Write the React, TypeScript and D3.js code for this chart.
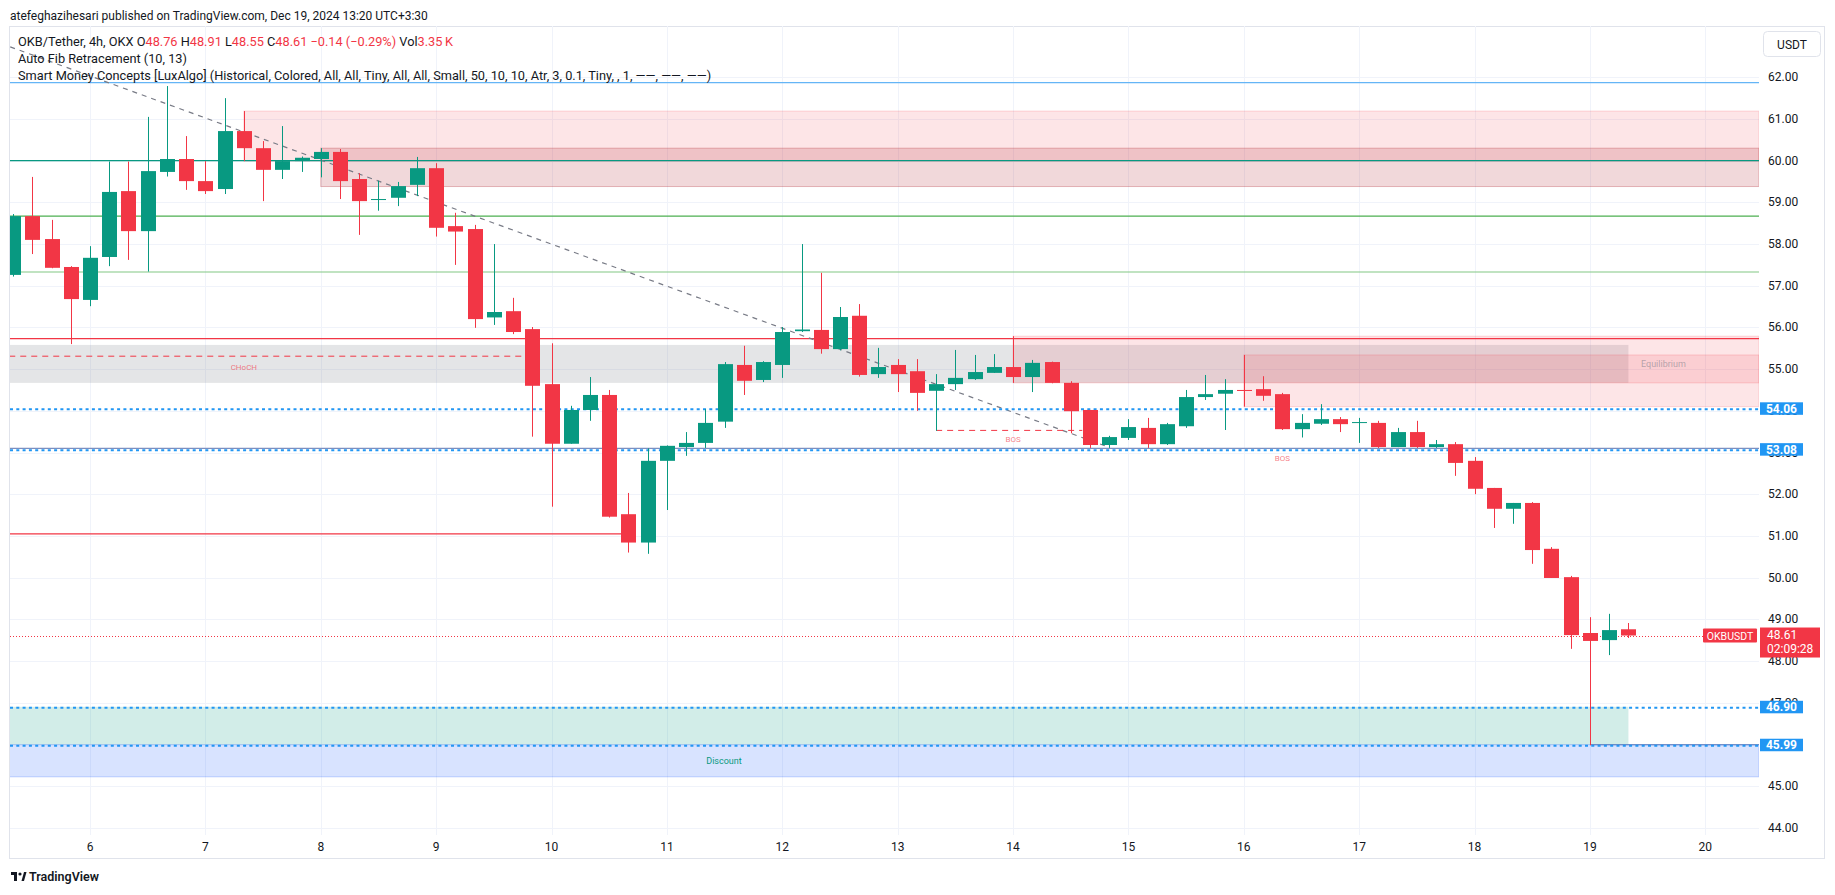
import React, { useEffect, useRef } from "react";
import * as d3 from "d3";

// OKB/USDT 4h bars, Dec 5 04:00 .. Dec 19 08:00
const opens = [
  57.26, 58.67, 58.12, 57.45, 56.66, 57.69, 59.27, 58.31, 59.73, 60.04,
  59.51, 59.32, 60.71, 60.30, 59.78, 59.99, 60.04, 60.21, 59.56, 59.06,
  59.11, 59.42, 59.82, 58.43, 58.36, 56.24, 56.39, 55.96, 54.64, 53.21,
  54.02, 54.38, 51.52, 50.84, 52.80, 53.13, 53.23, 53.74, 55.10, 54.74,
  55.10, 55.91, 55.94, 55.48, 56.28, 54.88, 55.10, 54.95, 54.48, 54.64,
  54.76, 54.91, 55.05, 54.81, 55.17, 54.67, 54.02, 53.18, 53.35, 53.59,
  53.20, 53.63, 54.33, 54.41, 54.50, 54.52, 54.40, 53.56, 53.69, 53.80,
  53.71, 53.71, 53.13, 53.49, 53.13, 53.20, 52.80, 52.15, 51.65, 51.79,
  50.69, 50.01, 48.67, 48.50, 48.76,
];
const highs = [
  58.72, 59.61, 58.58, 57.47, 57.95, 59.98, 59.98, 61.05, 61.79, 60.59,
  59.99, 61.50, 61.19, 60.47, 60.83, 60.10, 60.30, 60.28, 59.70, 59.52,
  59.49, 60.09, 59.94, 58.75, 58.46, 58.00, 56.71, 56.01, 55.62, 54.12,
  54.81, 54.50, 52.03, 53.10, 53.17, 53.49, 54.04, 55.17, 55.56, 55.19,
  56.01, 58.00, 57.31, 56.49, 56.56, 55.51, 55.24, 55.24, 54.88, 55.46,
  55.34, 55.36, 55.79, 55.22, 55.18, 54.71, 54.02, 53.40, 53.80, 53.83,
  53.71, 54.50, 54.86, 54.76, 55.34, 54.83, 54.43, 53.92, 54.16, 53.85,
  53.83, 53.76, 53.59, 53.76, 53.30, 53.25, 52.89, 52.15, 51.79, 51.81,
  50.73, 50.04, 49.05, 49.13, 48.91,
];
const lows = [
  57.22, 57.76, 57.42, 55.60, 56.51, 57.47, 57.62, 57.34, 59.62, 59.30,
  59.20, 59.20, 59.99, 59.03, 59.56, 59.73, 59.60, 59.08, 58.22, 58.80,
  58.91, 59.15, 58.18, 57.50, 55.99, 56.06, 55.84, 53.38, 51.70, 53.21,
  53.76, 51.44, 50.60, 50.57, 51.62, 52.92, 53.11, 53.59, 54.38, 54.69,
  54.79, 55.89, 55.37, 55.45, 54.82, 54.79, 54.45, 54.00, 53.52, 54.50,
  54.74, 54.91, 54.67, 54.45, 54.66, 53.46, 53.11, 53.11, 53.30, 53.11,
  53.18, 53.59, 54.26, 53.54, 54.10, 54.24, 53.54, 53.36, 53.66, 53.49,
  53.23, 53.11, 53.13, 53.11, 53.11, 52.44, 52.00, 51.19, 51.29, 50.33,
  49.99, 48.29, 45.98, 48.14, 48.55,
];
const closes = [
  58.67, 58.10, 57.43, 56.68, 57.67, 59.25, 58.31, 59.75, 60.04, 59.51,
  59.27, 60.71, 60.30, 59.78, 59.99, 60.07, 60.21, 59.51, 59.03, 59.08,
  59.39, 59.82, 58.39, 58.30, 56.20, 56.37, 55.89, 54.60, 53.21, 54.02,
  54.38, 51.46, 50.84, 52.80, 53.16, 53.23, 53.71, 55.12, 54.72, 55.17,
  55.89, 55.95, 55.48, 56.25, 54.86, 55.05, 54.88, 54.43, 54.64, 54.79,
  54.93, 55.05, 54.81, 55.15, 54.67, 53.99, 53.18, 53.37, 53.61, 53.20,
  53.68, 54.33, 54.40, 54.50, 54.48, 54.36, 53.56, 53.71, 53.80, 53.68,
  53.73, 53.13, 53.49, 53.13, 53.20, 52.75, 52.13, 51.65, 51.79, 50.66,
  49.99, 48.62, 48.48, 48.74, 48.61,
];

const dayLabels = [6, 7, 8, 9, 10, 11, 12, 13, 14, 15, 16, 17, 18, 19, 20];
const firstDayBar = 4; // bar index of Dec 6 00:00
const barsPerDay = 6;
const priceTicks = [44, 45, 46, 47, 48, 49, 50, 51, 52, 53, 54, 55, 56, 57, 58, 59, 60, 61, 62];

// auto fib levels (full width)
const fibLevels = [61.87, 60.0, 58.67, 57.33, 55.73];
const fibColors = ["#64b5f6", "#089981", "#4caf50", "#81c784", "#f23645"];
// structure levels (blue dotted + axis tags)
const swingLevels = [54.06, 53.08, 46.9, 45.99];
const lastPrice = 48.61;

// [fromBar, toBar(null = right edge), top, bottom]
const premiumZones: [number, number | null, number, number][] = [
  [12, null, 61.19, 59.99],
  [52, null, 55.79, 54.67],
  [64, null, 55.34, 54.1],
];
const obZones: [number, number | null, number, number][] = [[16, null, 60.3, 59.38]];
const equilibriumZone: [number, number, number, number] = [-0.2, 84, 55.58, 54.67];
const discountZone: [number, number, number, number] = [-0.2, 84, 46.9, 45.99];
const lowZone: [number, number | null, number, number] = [-0.2, null, 45.99, 45.22];

const chochLine = { from: -0.2, to: 26.5, price: 55.31, labelBar: 12 };
const bosLines = [
  { from: 48, to: 55.6, price: 53.53, labelBar: 52, labelPrice: 53.25 },
  { from: 66, to: 66, price: 52.9, labelBar: 66, labelPrice: 52.8 },
];
const trendLine = { bar0: -0.15, p0: 62.73, bar1: 56.78, p1: 53.16 };
const swingLowLine = { from: -0.2, to: 31.7, price: 51.05 };

const W = 1835;
const H = 895;
const plotL = 10;
const plotR = 1759;
const plotT = 26;
const plotB = 835;
const FONT = "Roboto, 'Liberation Sans', Arial, sans-serif";
const UP = "#089981";
const DOWN = "#f23645";

export default function App() {
  const ref = useRef<SVGSVGElement | null>(null);

  useEffect(() => {
    const svg = d3.select(ref.current);
    svg.selectAll("*").remove();

    const x = d3.scaleLinear().domain([0, 84]).range([13.1, 13.1 + 84 * 19.23]);
    const y = d3.scaleLinear().domain([44, 62]).range([827.7, 77.3]);
    const bodyW = 15;

    svg.append("rect").attr("width", W).attr("height", H).attr("fill", "#ffffff");

    // header
    svg.append("text")
      .attr("x", 10).attr("y", 20)
      .attr("font-family", FONT).attr("font-size", 12).attr("fill", "#131722")
      .text("atefeghazihesari published on TradingView.com, Dec 19, 2024 13:20 UTC+3:30");

    // pane frame
    svg.append("rect")
      .attr("x", 9.5).attr("y", 26.5).attr("width", 1815).attr("height", 832)
      .attr("fill", "none").attr("stroke", "#e0e3eb").attr("stroke-width", 1);

    svg.append("defs").append("clipPath").attr("id", "plotclip")
      .append("rect").attr("x", plotL).attr("y", plotT)
      .attr("width", plotR - plotL).attr("height", plotB - plotT);

    const g = svg.append("g").attr("clip-path", "url(#plotclip)");
    const xr = (b: number | null) => (b === null ? plotR : x(b));

    // grid
    g.selectAll(".hgrid").data(priceTicks).join("line")
      .attr("x1", plotL).attr("x2", plotR)
      .attr("y1", d => Math.round(y(d)) + 0.5).attr("y2", d => Math.round(y(d)) + 0.5)
      .attr("stroke", "#f0f3fa");
    g.selectAll(".vgrid").data(dayLabels).join("line")
      .attr("x1", d => Math.round(x(firstDayBar + (d - 6) * barsPerDay)) + 0.5)
      .attr("x2", d => Math.round(x(firstDayBar + (d - 6) * barsPerDay)) + 0.5)
      .attr("y1", plotT).attr("y2", plotB)
      .attr("stroke", "#f0f3fa");

    // zones
    const rectZone = (z: [number, number | null, number, number], fill: string, stroke: string) =>
      g.append("rect")
        .attr("x", x(z[0])).attr("y", y(z[2]))
        .attr("width", xr(z[1]) - x(z[0])).attr("height", y(z[3]) - y(z[2]))
        .attr("fill", fill).attr("stroke", stroke);

    rectZone(equilibriumZone, "rgba(120,123,134,0.2)", "none");
    premiumZones.forEach(z => rectZone(z, "rgba(242,54,69,0.13)", "rgba(242,54,69,0.18)"));
    obZones.forEach(z => rectZone(z, "rgba(178,40,51,0.18)", "rgba(178,40,51,0.3)"));
    rectZone(discountZone, "rgba(8,153,129,0.18)", "none");
    rectZone(lowZone, "rgba(41,98,255,0.18)", "rgba(41,98,255,0.25)");

    // fib lines
    g.selectAll(".fib").data(fibLevels).join("line")
      .attr("x1", plotL).attr("x2", plotR)
      .attr("y1", d => y(d)).attr("y2", d => y(d))
      .attr("stroke", (d, i) => fibColors[i]).attr("stroke-width", 1.2);
    g.append("line")
      .attr("x1", x(swingLowLine.from)).attr("x2", x(swingLowLine.to))
      .attr("y1", y(swingLowLine.price)).attr("y2", y(swingLowLine.price))
      .attr("stroke", DOWN).attr("stroke-width", 1.2);
    // solid steel line under 53.08 and 45.99
    g.append("line")
      .attr("x1", plotL).attr("x2", plotR)
      .attr("y1", y(53.1)).attr("y2", y(53.1))
      .attr("stroke", "#7b8fc0").attr("stroke-width", 1.2);
    g.append("line")
      .attr("x1", x(82)).attr("x2", plotR)
      .attr("y1", y(45.99)).attr("y2", y(45.99))
      .attr("stroke", "#5b78b8").attr("stroke-width", 1.2);

    // trend line
    g.append("line")
      .attr("x1", x(trendLine.bar0)).attr("y1", y(trendLine.p0))
      .attr("x2", x(trendLine.bar1)).attr("y2", y(trendLine.p1))
      .attr("stroke", "#787b86").attr("stroke-width", 1.2).attr("stroke-dasharray", "5 5");

    // structure levels
    g.selectAll(".swing").data(swingLevels).join("line")
      .attr("x1", plotL).attr("x2", plotR)
      .attr("y1", d => y(d) + 1).attr("y2", d => y(d) + 1)
      .attr("stroke", "#2196f3").attr("stroke-width", 2).attr("stroke-dasharray", "3 3.3");

    // CHoCH / BOS
    g.append("line")
      .attr("x1", x(chochLine.from)).attr("x2", x(chochLine.to))
      .attr("y1", y(chochLine.price)).attr("y2", y(chochLine.price))
      .attr("stroke", DOWN).attr("stroke-width", 1).attr("stroke-dasharray", "6 5");
    g.append("text")
      .attr("x", x(chochLine.labelBar)).attr("y", y(chochLine.price) + 14)
      .attr("text-anchor", "middle").attr("font-family", FONT).attr("font-size", 8)
      .attr("fill", "rgba(242,54,69,0.65)").text("CHoCH");
    bosLines.forEach(b => {
      if (b.to > b.from) {
        g.append("line")
          .attr("x1", x(b.from)).attr("x2", x(b.to))
          .attr("y1", y(b.price)).attr("y2", y(b.price))
          .attr("stroke", DOWN).attr("stroke-width", 1).attr("stroke-dasharray", "6 5");
      }
      g.append("text")
        .attr("x", x(b.labelBar)).attr("y", y(b.labelPrice))
        .attr("text-anchor", "middle").attr("font-family", FONT).attr("font-size", 8)
        .attr("fill", "rgba(242,54,69,0.65)").text("BOS");
    });

    g.append("text").attr("x", 1641).attr("y", y(55.0) - 2)
      .attr("font-family", FONT).attr("font-size", 9).attr("fill", "rgba(120,123,134,0.55)")
      .text("Equilibrium");
    g.append("text").attr("x", 724).attr("y", y(45.6) + 3)
      .attr("text-anchor", "middle").attr("font-family", FONT).attr("font-size", 9)
      .attr("fill", UP).text("Discount");

    // last price line
    g.append("line")
      .attr("x1", plotL).attr("x2", plotR)
      .attr("y1", Math.round(y(lastPrice)) + 0.5).attr("y2", Math.round(y(lastPrice)) + 0.5)
      .attr("stroke", DOWN).attr("stroke-width", 1).attr("stroke-dasharray", "1 2");

    // candles
    const idx = d3.range(opens.length);
    const col = (i: number) => (closes[i] >= opens[i] ? UP : DOWN);
    g.selectAll(".wick").data(idx).join("line")
      .attr("x1", i => Math.round(x(i)) + 0.5).attr("x2", i => Math.round(x(i)) + 0.5)
      .attr("y1", i => y(highs[i])).attr("y2", i => y(lows[i]))
      .attr("stroke", col).attr("stroke-width", 1);
    g.selectAll(".body").data(idx).join("rect")
      .attr("x", i => Math.round(x(i)) + 0.5 - bodyW / 2)
      .attr("width", bodyW)
      .attr("y", i => y(Math.max(opens[i], closes[i])))
      .attr("height", i => Math.max(1, Math.abs(y(opens[i]) - y(closes[i]))))
      .attr("fill", col);

    // OKBUSDT tag
    g.append("rect").attr("x", 1703).attr("y", y(lastPrice) - 7).attr("width", 54).attr("height", 14)
      .attr("fill", DOWN).attr("rx", 1);
    g.append("text").attr("x", 1730).attr("y", y(lastPrice) + 4)
      .attr("text-anchor", "middle").attr("font-family", FONT).attr("font-size", 10.5)
      .attr("fill", "#ffffff").text("OKBUSDT");

    // price axis
    svg.selectAll(".ptick").data(priceTicks).join("text")
      .attr("x", 1768).attr("y", d => y(d) + 4)
      .attr("font-family", FONT).attr("font-size", 12).attr("fill", "#131722")
      .text(d => d.toFixed(2));

    swingLevels.forEach(p => {
      svg.append("rect").attr("x", 1760).attr("y", y(p) - 6).attr("width", 43).attr("height", 12.5)
        .attr("fill", "#2196f3");
      svg.append("text").attr("x", 1781.5).attr("y", y(p) + 4.5)
        .attr("text-anchor", "middle").attr("font-family", FONT).attr("font-size", 12)
        .attr("font-weight", 700).attr("fill", "#ffffff").text(p.toFixed(2));
    });

    svg.append("rect").attr("x", 1760).attr("y", y(lastPrice) - 8).attr("width", 60).attr("height", 30)
      .attr("fill", DOWN);
    svg.append("text").attr("x", 1767).attr("y", y(lastPrice) + 3)
      .attr("font-family", FONT).attr("font-size", 12).attr("fill", "#ffffff").text(lastPrice.toFixed(2));
    svg.append("text").attr("x", 1767).attr("y", y(lastPrice) + 17)
      .attr("font-family", FONT).attr("font-size", 12).attr("fill", "#ffffff").text("02:09:28");

    // USDT button
    svg.append("rect").attr("x", 1763.5).attr("y", 31.5).attr("width", 57).attr("height", 25).attr("rx", 4)
      .attr("fill", "#ffffff").attr("stroke", "#e0e3eb");
    svg.append("text").attr("x", 1792).attr("y", 48.5).attr("text-anchor", "middle")
      .attr("font-family", FONT).attr("font-size", 12).attr("fill", "#131722").text("USDT");

    // time axis
    svg.selectAll(".dtick").data(dayLabels).join("text")
      .attr("x", d => x(firstDayBar + (d - 6) * barsPerDay)).attr("y", 851)
      .attr("text-anchor", "middle").attr("font-family", FONT).attr("font-size", 12)
      .attr("fill", "#131722").text(d => String(d));

    // legend
    const leg = svg.append("g").attr("font-family", FONT).attr("font-size", 12.75).attr("fill", "#131722")
      .style("white-space", "pre");
    const l1 = leg.append("text").attr("x", 18).attr("y", 46);
    const parts: [string, string][] = [
      ["OKB/Tether, 4h, OKX  O", "#131722"], ["48.76", DOWN], ["  H", "#131722"], ["48.91", DOWN],
      ["  L", "#131722"], ["48.55", DOWN], ["  C", "#131722"], ["48.61", DOWN],
      ["  \u22120.14 (\u22120.29%)", DOWN], ["  Vol", "#131722"], ["3.35\u2009K", DOWN],
    ];
    parts.forEach(([t, c]) => l1.append("tspan").attr("fill", c).text(t));
    leg.append("text").attr("x", 18).attr("y", 63).text("Auto Fib Retracement (10, 13)");
    leg.append("text").attr("x", 18).attr("y", 80)
      .text("Smart Money Concepts [LuxAlgo] (Historical, Colored, All, All, Tiny, All, All, Small, 50, 10, 10, Atr, 3, 0.1, Tiny, , 1, \u2014\u2014, \u2014\u2014, \u2014\u2014)");

    // footer logo
    const logo = svg.append("g").attr("fill", "#131722");
    logo.append("rect").attr("x", 11).attr("y", 872).attr("width", 6).attr("height", 3);
    logo.append("rect").attr("x", 14).attr("y", 872).attr("width", 3).attr("height", 9);
    logo.append("circle").attr("cx", 20).attr("cy", 874).attr("r", 1.6);
    logo.append("path").attr("d", "M21.5 881 L24 872 L26.5 872 L24 881 Z");
    svg.append("text").attr("x", 29).attr("y", 881)
      .attr("font-family", FONT).attr("font-size", 12.5).attr("font-weight", 600).attr("fill", "#131722")
      .text("TradingView");
  }, []);

  return (
    <svg
      ref={ref}
      width={W}
      height={H}
      style={{ position: "absolute", left: 0, top: 0, display: "block" }}
    />
  );
}
